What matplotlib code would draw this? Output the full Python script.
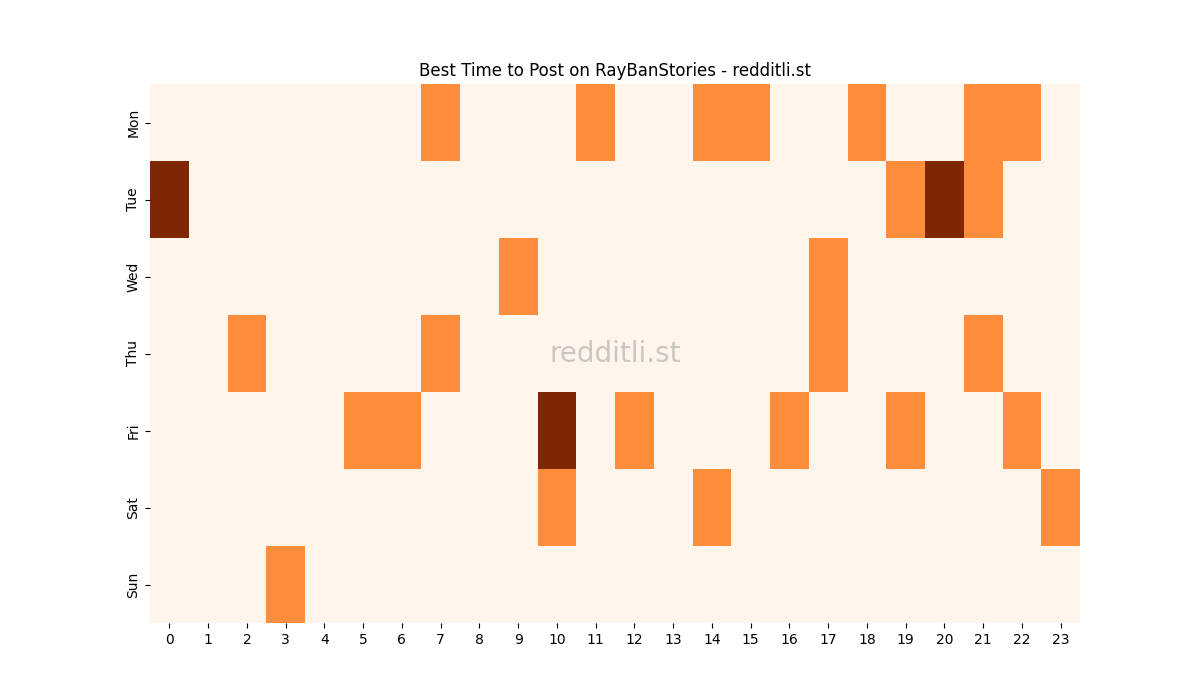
import numpy as np
import matplotlib
matplotlib.use("Agg")
import matplotlib.pyplot as plt

days = ["Mon", "Tue", "Wed", "Thu", "Fri", "Sat", "Sun"]
hours = list(range(24))

# (day, hour, value) for non-zero cells
cells = [
    ("Mon", 7, 1), ("Mon", 11, 1), ("Mon", 14, 1), ("Mon", 15, 1), ("Mon", 18, 1), ("Mon", 21, 1), ("Mon", 22, 1),
    ("Tue", 0, 2), ("Tue", 19, 1), ("Tue", 20, 2), ("Tue", 21, 1),
    ("Wed", 9, 1), ("Wed", 17, 1),
    ("Thu", 2, 1), ("Thu", 7, 1), ("Thu", 17, 1), ("Thu", 21, 1),
    ("Fri", 5, 1), ("Fri", 6, 1), ("Fri", 10, 2), ("Fri", 12, 1), ("Fri", 16, 1), ("Fri", 19, 1), ("Fri", 22, 1),
    ("Sat", 10, 1), ("Sat", 14, 1), ("Sat", 23, 1),
    ("Sun", 3, 1),
]

grid = np.zeros((len(days), len(hours)))
for d, h, v in cells:
    grid[days.index(d), h] = v

fig, ax = plt.subplots(figsize=(12, 7), dpi=100)
ax.pcolormesh(np.arange(25), np.arange(8), grid, cmap="Oranges", vmin=0, vmax=2)
ax.set_xlim(0, 24)
ax.set_ylim(7, 0)
ax.set_xticks(np.arange(24) + 0.5)
ax.set_xticklabels([str(h) for h in hours])
ax.set_yticks(np.arange(7) + 0.5)
ax.set_yticklabels(days, rotation=90, va="center")
for s in ax.spines.values():
    s.set_visible(False)
ax.set_title("Best Time to Post on RayBanStories - redditli.st")
ax.text(0.5, 0.5, "redditli.st", transform=ax.transAxes, ha="center", va="center",
        fontsize=20, color="grey", alpha=0.4)
fig.savefig("out.png", dpi=100)
